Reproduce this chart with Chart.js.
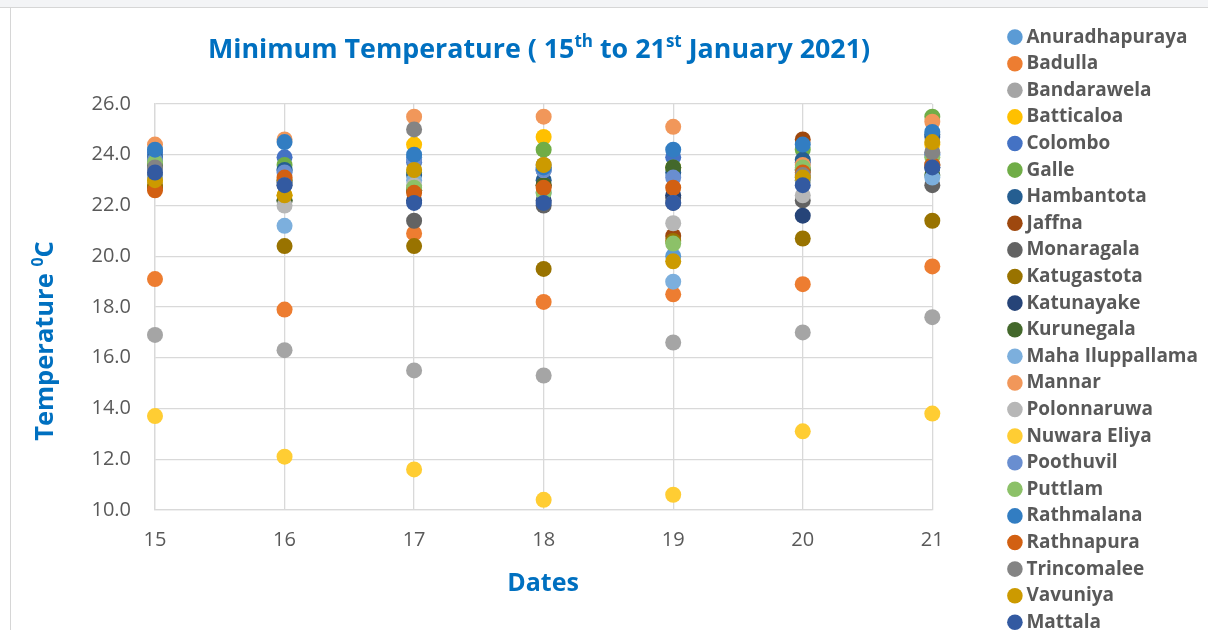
<!DOCTYPE html>
<html><head><meta charset="utf-8">
<script src="https://cdn.jsdelivr.net/npm/chart.js@4.4.0/dist/chart.umd.min.js"></script>
<style>
html,body{margin:0;padding:0;overflow:hidden;background:#fff;width:1208px;height:630px}
#wrap{position:absolute;left:0;top:0;width:1208px;height:660px}
#strip{position:absolute;left:0;top:0;width:1208px;height:7px;background:#f3f4f6;border-bottom:1px solid #d6d6d6}
#lborder{position:absolute;left:10px;top:8px;width:1px;height:622px;background:#d6d6d6}
</style></head><body>
<div id="wrap"><canvas id="c" width="1208" height="660"></canvas></div>
<div id="strip"></div><div id="lborder"></div>
<script>
// ---- data ----
const dates = [15, 16, 17, 18, 19, 20, 21];
const yTicks = [10, 12, 14, 16, 18, 20, 22, 24, 26];
const stations = ["Anuradhapuraya","Badulla","Bandarawela","Batticaloa","Colombo","Galle","Hambantota","Jaffna","Monaragala","Katugastota","Katunayake","Kurunegala","Maha Iluppallama","Mannar","Polonnaruwa","Nuwara Eliya","Poothuvil","Puttlam","Rathmalana","Rathnapura","Trincomalee","Vavuniya","Mattala"];

const anuradhapuraya  = [24.0, 23.4, 23.9, 23.4, 20.0, 23.4, 24.0];
const badulla         = [19.1, 17.9, 20.9, 18.2, 18.5, 18.9, 19.6];
const bandarawela     = [16.9, 16.3, 15.5, 15.3, 16.6, 17.0, 17.6];
const batticaloa      = [23.0, 22.4, 24.4, 24.7, 23.5, 23.0, 24.4];
const colombo         = [24.1, 23.9, 23.7, 23.4, 23.9, 23.7, 24.7];
const galle           = [23.7, 23.6, 23.3, 24.2, 23.5, 24.2, 25.5];
const hambantota      = [23.9, 23.4, 23.2, 23.0, 23.3, 23.8, 24.8];
const jaffna          = [22.7, 23.0, 22.6, 22.8, 20.8, 24.6, 23.6];
const monaragala      = [23.2, 22.2, 21.4, 22.0, 22.3, 22.2, 22.8];
const katugastota     = [22.8, 20.4, 20.4, 19.5, 20.6, 20.7, 21.4];
const katunayake      = [23.5, 22.9, 22.2, 22.2, 22.4, 21.6, 23.5];
const kurunegala      = [23.6, 22.2, 22.6, 22.8, 23.5, 23.4, 23.2];
const mahaIluppallama = [23.1, 21.2, 23.0, 22.5, 19.0, 23.0, 23.1];
const mannar          = [24.4, 24.6, 25.5, 25.5, 25.1, 23.6, 25.3];
const polonnaruwa     = [23.4, 22.0, 22.8, 23.4, 21.3, 22.4, 23.6];
const nuwaraEliya     = [13.7, 12.1, 11.6, 10.4, 10.6, 13.1, 13.8];
const poothuvil       = [23.8, 23.3, 23.8, 23.4, 23.1, 23.1, 24.0];
const puttlam         = [23.7, 23.0, 22.7, 22.5, 20.5, 23.5, 23.9];
const rathmalana      = [24.2, 24.5, 24.0, 23.5, 24.2, 24.4, 24.9];
const rathnapura      = [22.6, 23.1, 22.5, 22.7, 22.7, 23.3, 23.6];
const trincomalee     = [23.5, 22.8, 25.0, 23.6, 22.1, 23.2, 24.1];
const vavuniya        = [23.0, 22.4, 23.4, 23.6, 19.8, 23.1, 24.5];
const mattala         = [23.3, 22.8, 22.1, 22.1, 22.1, 22.8, 23.5];

const seriesValues = [anuradhapuraya, badulla, bandarawela, batticaloa, colombo, galle, hambantota, jaffna, monaragala, katugastota, katunayake, kurunegala, mahaIluppallama, mannar, polonnaruwa, nuwaraEliya, poothuvil, puttlam, rathmalana, rathnapura, trincomalee, vavuniya, mattala];

// ---- styles ----
const colors = ["#5B9BD5","#ED7D31","#A5A5A5","#FFC000","#4472C4","#70AD47","#255E91","#9E480E","#636363","#997300","#264478","#43682B","#7CAFDD","#F1975A","#B7B7B7","#FFCD33","#698ED0","#8CC168","#327DC2","#D26012","#848484","#CC9A00","#335AA1"];
const BLUE = '#0070C0', GREY = '#595959', GRID = '#d9d9d9', FONT = "'Open Sans', 'Noto Sans', sans-serif";

const datasets = stations.map((name, i) => ({
  label: name,
  data: dates.map((d, j) => ({x: d, y: seriesValues[i][j]})),
  backgroundColor: colors[i],
  borderColor: colors[i],
  pointBackgroundColor: colors[i],
  pointBorderColor: colors[i],
  pointBorderWidth: 0,
  borderWidth: 0,
  pointRadius: 8,
  pointHoverRadius: 8,
  showLine: false,
  clip: false,
  order: stations.length - 1 - i
}));

function drawRich(ctx, parts, size, cx, cy) {
  const supSize = Math.round(size * 0.62);
  let total = 0;
  parts.forEach(p => { ctx.font = `bold ${p[1] ? supSize : size}px ${FONT}`; total += ctx.measureText(p[0]).width; });
  let x = cx - total / 2;
  ctx.textAlign = 'left';
  ctx.textBaseline = 'alphabetic';
  parts.forEach(p => {
    ctx.font = `bold ${p[1] ? supSize : size}px ${FONT}`;
    ctx.fillText(p[0], x, cy + size * 0.36 - (p[1] ? size * 0.38 : 0));
    x += ctx.measureText(p[0]).width;
  });
  return total;
}

const textPlugin = {
  id: 'texts',
  afterDraw(chart) {
    const ctx = chart.ctx;
    ctx.save();
    ctx.fillStyle = BLUE;
    const titleParts = [["Minimum Temperature ( 15", false], ["th", true], [" to 21", false], ["st", true], [" January 2021)", false]];
    let w = 0; const base = 24;
    titleParts.forEach(p => { ctx.font = `bold ${p[1] ? Math.round(base*0.62) : base}px ${FONT}`; w += ctx.measureText(p[0]).width; });
    const ts = base * 662 / w;
    drawRich(ctx, titleParts, ts, 539, 48);
    drawRich(ctx, [["Dates", false]], 25, 543, 582);
    ctx.save();
    ctx.translate(44, 341);
    ctx.rotate(-Math.PI / 2);
    drawRich(ctx, [["Temperature ", false], ["0", true], ["C", false]], 25.5, 0, 0);
    ctx.restore();
    ctx.restore();
  }
};

new Chart(document.getElementById('c'), {
  type: 'scatter',
  data: { datasets },
  options: {
    responsive: false,
    animation: false,
    events: [],
    layout: { padding: { top: 20, left: 0, right: 0, bottom: 0 } },
    scales: {
      x: {
        type: 'linear', min: dates[0], max: dates[dates.length - 1],
        ticks: { stepSize: 1, color: GREY, font: { family: FONT, size: 20 }, padding: 18 },
        grid: { color: GRID, drawTicks: false, lineWidth: 1.3 },
        border: { color: GRID, width: 1.3 },
        afterFit(s) { s.height = 150; }
      },
      y: {
        min: yTicks[0], max: yTicks[yTicks.length - 1],
        afterBuildTicks(s) { s.ticks = yTicks.map(v => ({ value: v })); },
        ticks: { color: GREY, font: { family: FONT, size: 20 }, padding: 24, callback: v => Number(v).toFixed(1) },
        grid: { color: GRID, drawTicks: false, lineWidth: 1.3 },
        border: { color: GRID, width: 1.3 },
        afterFit(s) { s.width = 155; }
      },
      y2: {
        position: 'right', min: 0, max: 1, display: true,
        grid: { display: false, drawTicks: false },
        ticks: { display: false },
        border: { display: false },
        afterFit(s) { s.width = 73; }
      }
    },
    plugins: {
      title: { display: true, text: ' ', fullSize: false, font: { size: 10, lineHeight: 1.2 }, padding: { top: 72, bottom: 0 } },
      tooltip: { enabled: false },
      legend: {
        position: 'right', align: 'start', reverse: true, maxWidth: 208,
        labels: {
          usePointStyle: true, pointStyle: 'circle', boxWidth: 4, boxHeight: 11, padding: 7.6,
          color: GREY, font: { family: FONT, size: 19, weight: 'bold' }
        }
      }
    }
  },
  plugins: [textPlugin]
});
</script>
</body></html>
